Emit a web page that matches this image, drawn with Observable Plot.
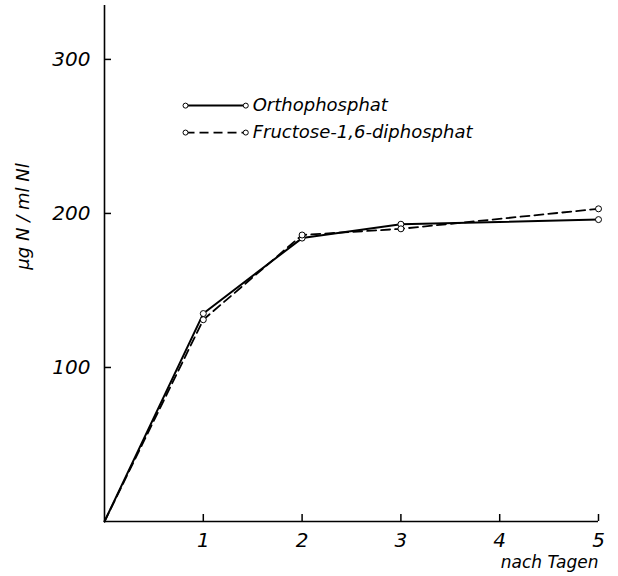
<!DOCTYPE html>
<html>
<head>
<meta charset="utf-8">
<script src="https://cdn.jsdelivr.net/npm/d3@7"></script>
<script src="https://cdn.jsdelivr.net/npm/@observablehq/plot@0.6"></script>
<style>
  html, body { margin: 0; padding: 0; background: white; }
  svg text { font-style: italic; }
</style>
</head>
<body>
<div id="chart"></div>
<script>
// Data
const days = [0, 1, 2, 3, 5];
const ortho = [0, 135, 184, 193, 196];
const fructose = [0, 131, 186, 190, 203];
const seriesNames = ["Orthophosphat", "Fructose-1,6-diphosphat"];
const xTicks = [1, 2, 3, 4, 5];
const yTicks = [100, 200, 300];
const yLabel = "µg N / ml Nl";
const xLabel = "nach Tagen";
// legend anchors in data units
const legendY = [270, 252.5];
const legendX1 = 0.82, legendX2 = 1.43, legendTextX = 1.5;

const rows = [];
days.forEach((d, i) => {
  rows.push({day: d, value: ortho[i], series: seriesNames[0]});
  rows.push({day: d, value: fructose[i], series: seriesNames[1]});
});
const orthoRows = rows.filter(r => r.series === seriesNames[0]);
const fructRows = rows.filter(r => r.series === seriesNames[1]);
const legendRows = seriesNames.map((s, i) => ({name: s, y: legendY[i], dashed: i === 1}));

const chart = Plot.plot({
  width: 618,
  height: 576,
  marginLeft: 104,
  marginRight: 20,
  marginTop: 5,
  marginBottom: 55,
  x: {domain: [0, 5]},
  y: {domain: [0, 335]},
  style: {fontFamily: "DejaVu Sans", fontSize: "20px", color: "black", background: "white"},
  marks: [
    Plot.ruleX([0], {y1: 0, y2: 335, stroke: "black", strokeWidth: 1.6}),
    Plot.ruleY([0], {x1: 0, x2: 5, stroke: "black", strokeWidth: 1.6}),
    Plot.axisY({ticks: yTicks, tickSize: -7, tickFormat: () => null, label: null, strokeWidth: 1.5}),
    Plot.axisY({ticks: yTicks, tickSize: 0, tickPadding: 14, tickFormat: d => String(d), label: null, fontSize: 20}),
    Plot.axisX({ticks: xTicks, tickSize: -7, tickFormat: () => null, label: null, strokeWidth: 1.5}),
    Plot.axisX({ticks: xTicks, tickSize: 0, tickPadding: 11, tickFormat: d => String(d), label: null, fontSize: 20}),
    Plot.line(orthoRows, {x: "day", y: "value", stroke: "black", strokeWidth: 2}),
    Plot.line(fructRows, {x: "day", y: "value", stroke: "black", strokeWidth: 1.8, strokeDasharray: "9,5"}),
    Plot.dot(rows.filter(r => r.day > 0), {x: "day", y: "value", r: 3, fill: "white", stroke: "black", strokeWidth: 1}),
    // legend
    Plot.link(legendRows.filter(d => !d.dashed), {x1: () => legendX1, x2: () => legendX2, y1: "y", y2: "y", stroke: "black", strokeWidth: 2}),
    Plot.link(legendRows.filter(d => d.dashed), {x1: () => legendX1, x2: () => legendX2, y1: "y", y2: "y", stroke: "black", strokeWidth: 1.8, strokeDasharray: "9,5"}),
    Plot.dot(legendRows, {x: () => legendX1, y: "y", r: 2.5, fill: "white", stroke: "black", strokeWidth: 1}),
    Plot.dot(legendRows, {x: () => legendX2, y: "y", r: 2.5, fill: "white", stroke: "black", strokeWidth: 1}),
    Plot.text(legendRows, {x: () => legendTextX, y: "y", text: "name", textAnchor: "start", fontSize: 18}),
    // axis titles
    Plot.text([yLabel], {frameAnchor: "left", dx: -81, dy: -47, rotate: -90, textAnchor: "middle", text: d => d, fontSize: 18}),
    Plot.text([xLabel], {frameAnchor: "bottom-right", dy: 46, textAnchor: "end", text: d => d, fontSize: 17})
  ]
});
document.getElementById("chart").appendChild(chart);
</script>
</body>
</html>
